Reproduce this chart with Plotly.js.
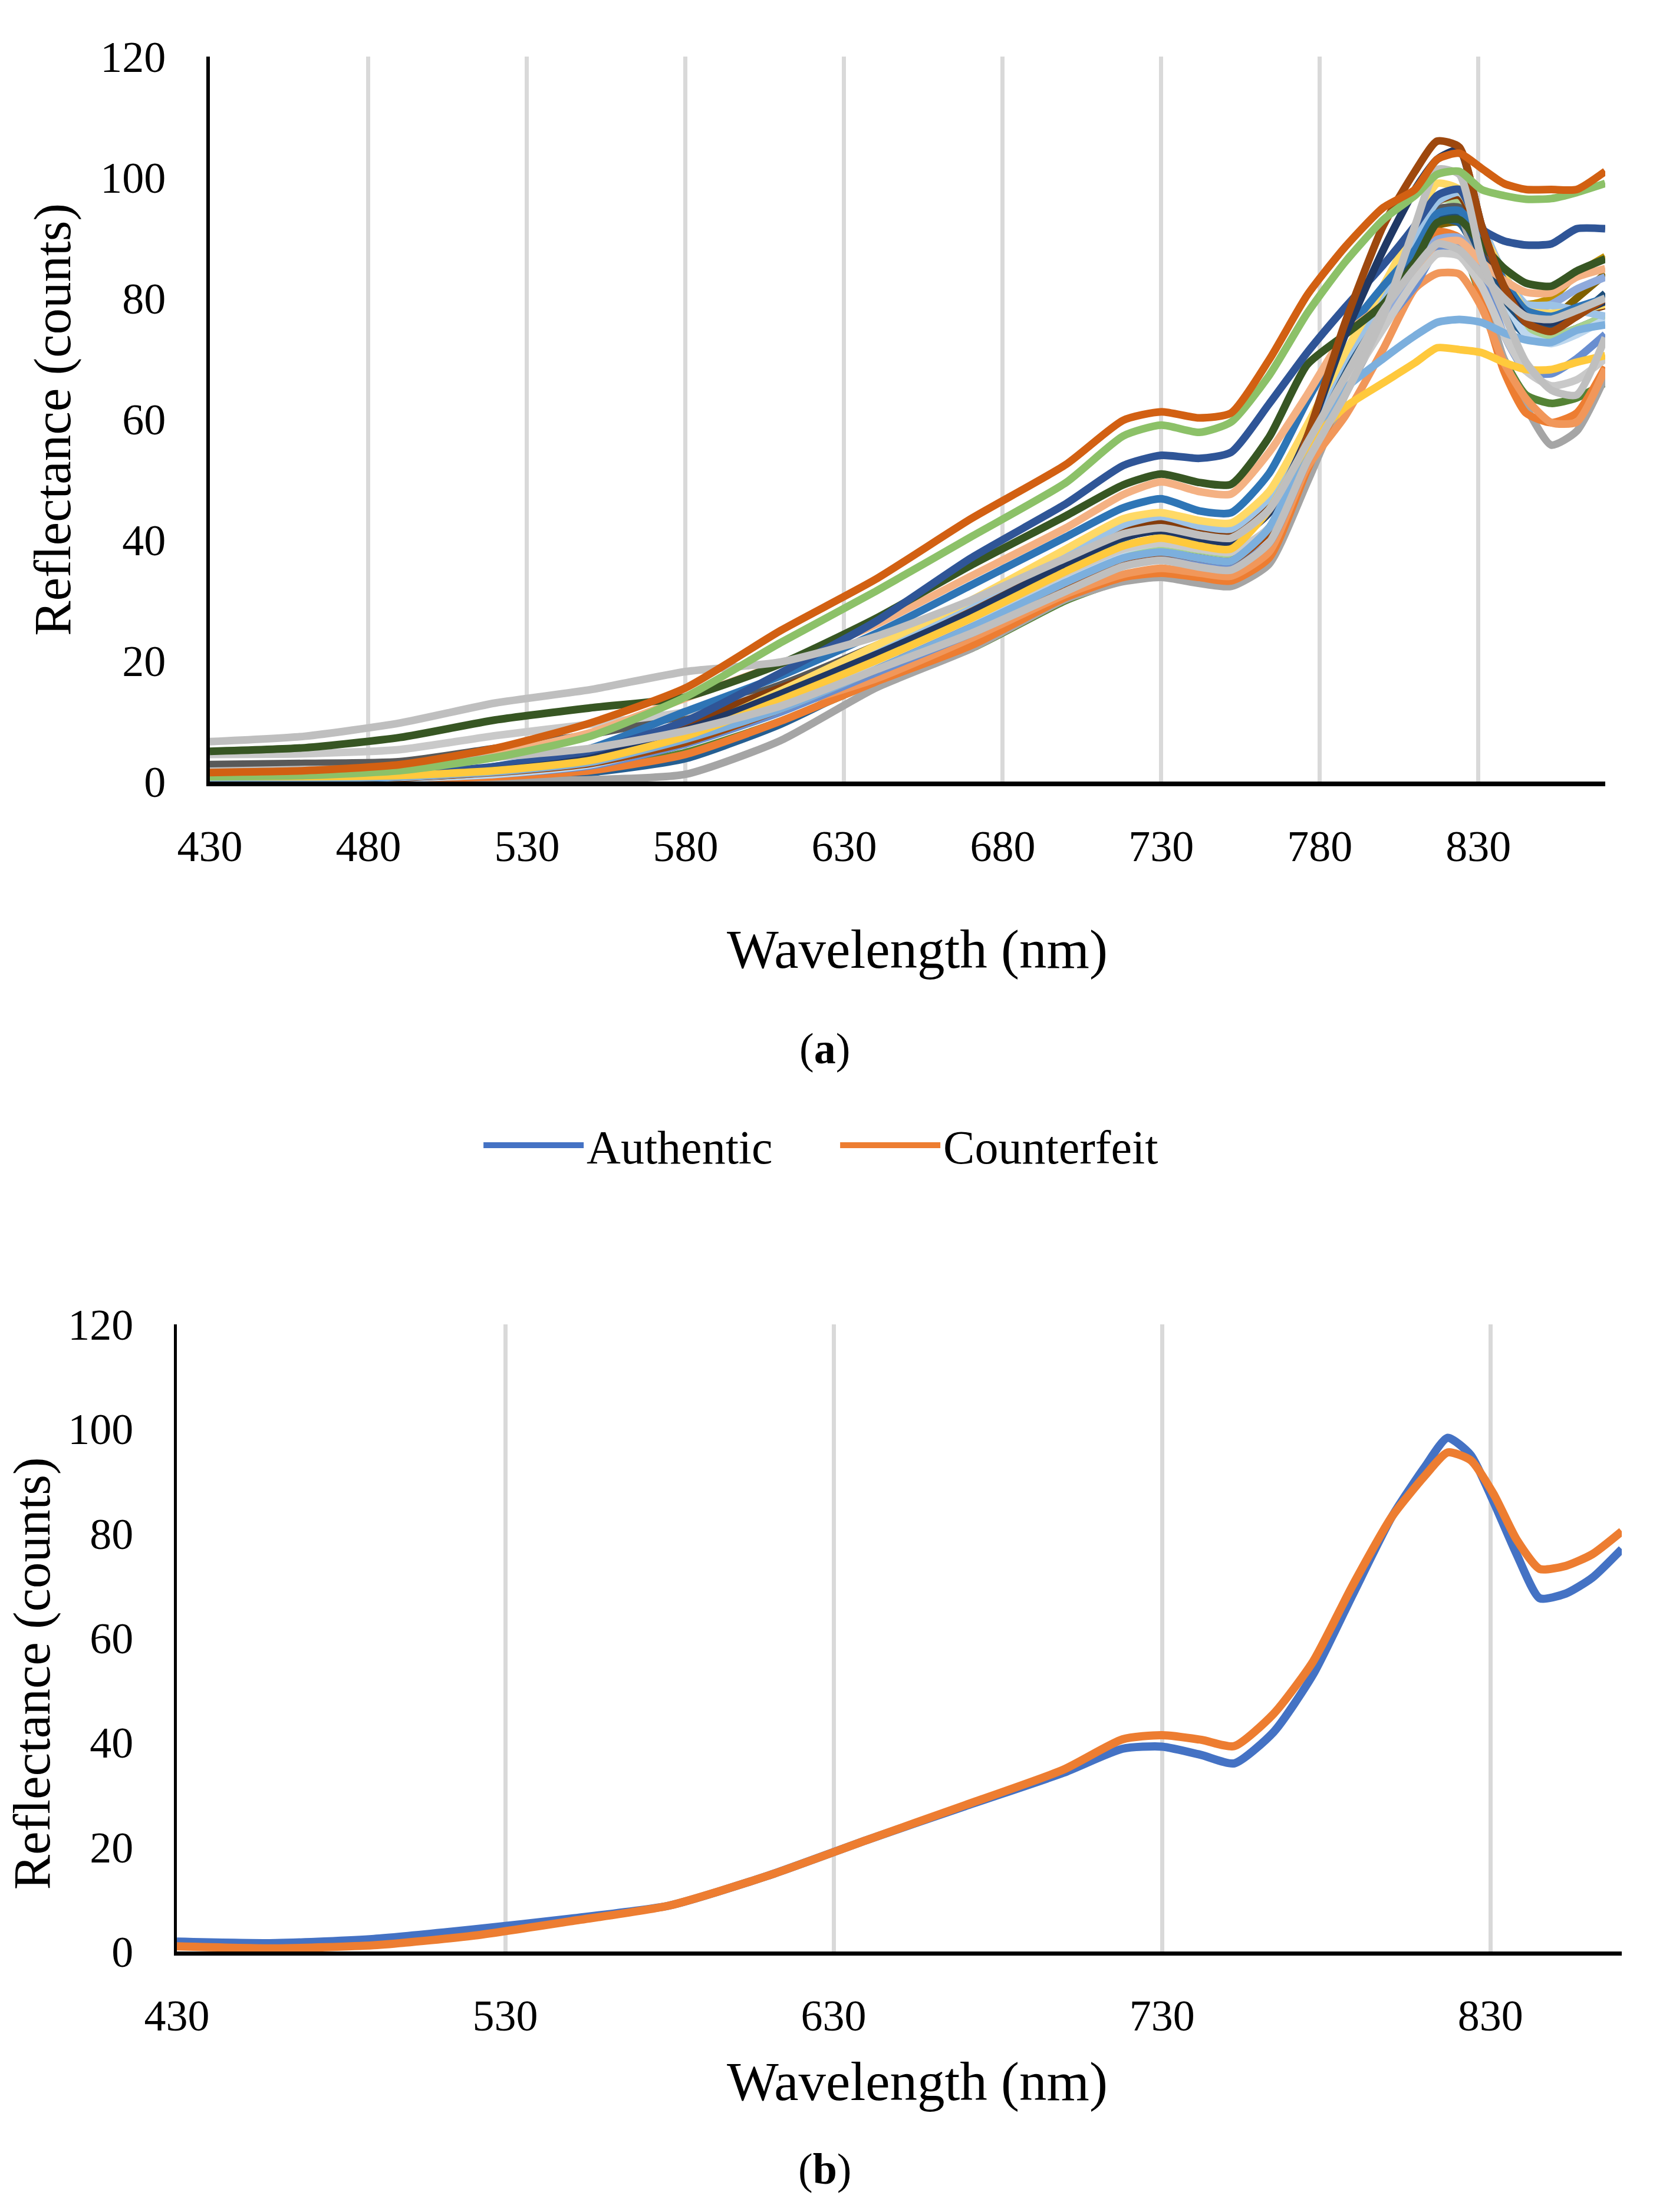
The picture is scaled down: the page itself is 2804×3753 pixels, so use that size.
<!DOCTYPE html>
<html>
<head>
<meta charset="utf-8">
<script src="https://cdn.plot.ly/plotly-3.0.1.min.js"></script>
<style>
  html, body { margin: 0; padding: 0; background: #fff; }
  #chart { width: 2804px; height: 3753px; }
</style>
</head>
<body>
<div id="chart"></div>
<script>
// Wavelength grid (nm) the spectra were read at
const wavelengths = [430, 460, 490, 520, 550, 580, 610, 640, 670, 700, 718, 730, 742, 752, 764, 776, 788, 800, 810, 817, 824, 831, 838, 845, 853, 861, 870];

// Panel (a): individual sample spectra (reflectance counts)
const specDarkGold    = [1.0, 1.2, 1.3, 1.8, 3.0, 6.5, 12.0, 18.5, 25.5, 33.0, 37.0, 38.0, 37.3, 36.8, 41.5, 54.5, 67.0, 78.0, 88.0, 93.0, 93.0, 88.0, 82.0, 79.0, 80.0, 84.0, 86.9];
const specOlive       = [0.9, 0.8, 1.0, 1.6, 3.0, 6.8, 12.5, 19.0, 26.0, 33.5, 37.5, 38.5, 37.8, 37.3, 42.0, 54.5, 67.0, 78.0, 87.0, 92.0, 92.5, 86.0, 79.0, 75.5, 76.5, 80.0, 84.0];
const specGreen2      = [0.3, 0.4, 0.5, 0.9, 2.0, 4.8, 10.0, 16.5, 22.0, 30.0, 33.3, 33.9, 33.0, 32.5, 36.3, 50.0, 65.0, 76.0, 84.0, 90.0, 89.0, 80.0, 70.0, 64.0, 62.6, 63.5, 66.0];
const specSteelBlue   = [0.2, 0.2, 0.3, 0.6, 1.5, 3.8, 9.5, 17.0, 22.5, 30.5, 33.5, 34.2, 33.3, 32.8, 37.0, 51.0, 66.0, 78.0, 88.0, 93.0, 92.5, 86.0, 78.0, 74.0, 73.5, 75.0, 77.0];
const specGrey        = [0.0, 0.0, 0.1, 0.2, 0.3, 1.2, 6.8, 15.5, 22.0, 30.2, 33.1, 33.8, 32.8, 32.3, 36.0, 49.5, 64.0, 76.0, 88.0, 95.0, 94.0, 82.0, 70.0, 62.0, 55.7, 58.0, 67.0];
const specOrange      = [0.2, 0.2, 0.4, 0.8, 1.8, 4.5, 10.0, 16.5, 22.5, 30.5, 33.8, 34.5, 33.8, 33.2, 37.0, 51.5, 64.5, 76.0, 86.0, 91.0, 90.0, 80.0, 68.0, 61.0, 59.4, 61.0, 68.6];
const specSalmon      = [0.3, 0.4, 0.6, 1.5, 3.5, 7.0, 12.0, 17.0, 23.7, 31.0, 34.3, 35.3, 34.5, 34.0, 38.0, 52.0, 60.5, 71.6, 81.6, 84.1, 84.0, 78.5, 69.4, 63.4, 59.4, 59.5, 68.3];
const specCornflower  = [0.3, 0.4, 0.6, 1.2, 2.6, 6.2, 11.5, 18.0, 24.5, 32.0, 36.2, 37.1, 36.0, 35.5, 39.5, 53.0, 64.5, 75.5, 82.0, 88.0, 88.5, 84.0, 74.0, 68.0, 67.5, 70.0, 74.0];
const specSoftBlue    = [0.6, 0.6, 0.9, 1.7, 3.3, 7.2, 13.0, 19.5, 26.5, 34.0, 38.0, 39.0, 38.2, 37.8, 42.0, 54.5, 66.0, 76.0, 85.0, 89.7, 90.0, 85.0, 80.0, 78.0, 79.0, 81.5, 83.5];
const specPaleGreen   = [2.0, 1.0, 1.2, 2.0, 3.5, 7.5, 13.0, 19.5, 26.5, 34.0, 38.0, 39.0, 38.0, 37.5, 42.0, 55.0, 68.0, 80.0, 90.0, 96.2, 96.0, 88.0, 80.0, 74.5, 73.5, 75.0, 77.0];
const specPaleBlue    = [0.2, 0.3, 0.5, 1.2, 2.8, 6.8, 12.5, 19.0, 26.0, 34.0, 38.3, 39.5, 38.5, 38.0, 42.0, 55.0, 67.0, 78.0, 88.0, 94.0, 95.0, 88.0, 80.0, 74.0, 72.5, 74.0, 76.5];
const specDarkGrey    = [2.8, 3.0, 3.3, 5.5, 7.8, 11.0, 16.0, 22.5, 29.5, 37.5, 42.0, 43.0, 41.8, 41.2, 46.0, 57.5, 69.0, 81.0, 89.0, 94.6, 95.0, 88.0, 81.0, 77.0, 76.0, 77.5, 79.0];
const specSilver      = [4.5, 4.6, 5.3, 7.6, 9.5, 11.5, 15.0, 20.5, 27.0, 34.5, 38.5, 39.5, 38.5, 38.0, 42.0, 54.0, 65.0, 75.0, 83.0, 87.3, 87.0, 82.0, 74.0, 68.0, 65.5, 66.5, 70.0];
const specBrown       = [0.2, 0.3, 0.6, 1.6, 4.0, 9.7, 15.5, 21.5, 29.0, 37.2, 41.9, 43.1, 41.5, 41.0, 46.0, 57.0, 70.0, 82.0, 91.0, 96.0, 97.0, 90.0, 82.0, 77.5, 76.5, 77.5, 78.8];
const specNavy        = [0.3, 0.4, 0.8, 1.8, 3.6, 8.0, 14.0, 20.5, 27.5, 35.5, 40.3, 41.8, 40.3, 40.0, 45.0, 55.5, 68.0, 80.0, 88.0, 93.7, 94.0, 87.0, 80.0, 76.0, 75.6, 77.0, 80.8];
const specLightBlue   = [0.3, 0.4, 0.7, 1.5, 3.2, 7.5, 14.5, 22.0, 29.5, 37.5, 42.5, 43.9, 42.3, 41.8, 47.0, 58.0, 70.0, 80.0, 90.0, 96.0, 97.5, 92.0, 84.0, 79.0, 78.8, 78.0, 77.0];
const specLightYellow = [0.5, 0.6, 0.9, 1.8, 3.5, 8.0, 15.0, 22.5, 30.0, 38.5, 43.5, 44.5, 43.2, 42.8, 48.0, 59.0, 71.0, 82.0, 92.0, 99.0, 98.0, 91.0, 84.0, 78.0, 77.5, 78.0, 79.0];
const specMidBlue     = [0.2, 0.4, 0.8, 2.5, 5.5, 11.6, 17.5, 24.5, 32.5, 40.5, 45.3, 46.8, 44.8, 44.5, 51.0, 63.0, 74.0, 82.0, 88.0, 94.0, 94.5, 90.0, 83.0, 78.0, 77.0, 78.5, 80.0];
const specPeach       = [0.5, 0.9, 2.0, 4.5, 8.1, 13.8, 19.5, 26.0, 34.0, 42.0, 47.5, 49.6, 48.0, 47.6, 54.5, 64.0, 74.0, 79.0, 85.0, 89.0, 89.5, 86.0, 83.0, 81.0, 80.9, 83.5, 84.9];
const specDarkGreen   = [5.0, 5.6, 7.3, 10.2, 12.2, 14.0, 19.5, 27.0, 35.8, 44.0, 49.1, 50.9, 49.5, 49.2, 57.0, 69.0, 74.0, 79.0, 86.0, 92.5, 93.0, 89.0, 85.0, 82.5, 82.0, 84.5, 86.5];
const specRoyalBlue   = [0.3, 0.5, 1.2, 2.5, 5.0, 10.0, 18.0, 26.5, 37.0, 46.0, 52.3, 54.0, 53.5, 54.5, 62.5, 71.0, 78.5, 85.5, 92.0, 97.0, 98.0, 91.5, 89.5, 88.8, 89.0, 91.5, 91.5];
const specDarkNavy    = [0.5, 0.6, 0.9, 1.8, 3.8, 8.5, 14.5, 21.0, 28.0, 36.0, 40.5, 41.5, 40.2, 39.7, 44.5, 57.0, 74.0, 88.0, 98.0, 103.0, 104.5, 92.0, 82.0, 77.0, 76.0, 77.5, 79.5];
const specRust        = [0.4, 0.5, 0.8, 1.5, 3.0, 6.5, 12.0, 18.5, 25.5, 32.5, 36.9, 37.9, 37.0, 36.5, 41.5, 57.0, 76.0, 92.0, 101.0, 106.0, 105.0, 92.0, 82.0, 76.0, 74.5, 77.0, 80.0];
const specSky         = [0.4, 0.5, 0.8, 1.6, 3.2, 7.0, 12.0, 18.5, 25.5, 33.0, 37.0, 38.0, 37.0, 36.5, 42.0, 55.0, 65.0, 70.0, 73.8, 76.0, 76.5, 76.0, 74.3, 73.1, 72.7, 74.7, 75.6];
const specGold        = [0.8, 0.8, 1.0, 1.8, 3.5, 7.5, 13.5, 20.0, 27.0, 34.8, 39.0, 40.3, 39.0, 38.5, 45.0, 55.5, 62.0, 66.0, 69.3, 71.8, 71.5, 71.0, 69.4, 68.2, 68.2, 69.4, 70.5];
const specHighGrey    = [6.6, 7.5, 9.7, 13.0, 15.2, 18.2, 19.8, 24.0, 30.0, 37.0, 41.0, 42.0, 40.8, 40.3, 45.0, 56.0, 67.0, 78.0, 85.0, 89.0, 88.0, 84.0, 80.0, 77.0, 76.5, 78.0, 80.0];
const specPeakGrey    = [1.7, 2.0, 2.2, 4.0, 5.5, 8.4, 12.5, 18.5, 24.5, 31.5, 35.6, 36.6, 35.5, 35.0, 39.5, 53.0, 64.0, 77.0, 92.0, 101.3, 100.5, 86.5, 77.5, 69.4, 64.8, 64.0, 73.5];
const specLeaf        = [0.8, 1.0, 1.8, 4.0, 7.5, 14.0, 23.0, 31.5, 40.5, 49.5, 57.2, 59.0, 57.8, 59.5, 67.2, 77.5, 86.0, 93.0, 97.0, 100.5, 101.0, 98.0, 97.0, 96.4, 96.5, 97.5, 99.0];
const specVermilion   = [1.5, 1.8, 2.8, 5.5, 9.7, 15.5, 25.0, 33.5, 43.5, 52.5, 59.8, 61.2, 60.2, 61.0, 69.8, 80.5, 88.5, 95.0, 98.0, 103.0, 104.0, 101.5, 99.0, 98.0, 98.0, 98.0, 101.0];

// Panel (b): mean spectra
const meanAuthentic   = [1.9, 1.6, 2.4, 4.2, 6.3, 8.8, 14.5, 21.3, 27.8, 34.2, 38.8, 39.2, 37.6, 36.0, 42.0, 53.0, 68.2, 83.2, 92.7, 98.3, 95.0, 86.0, 76.0, 67.6, 68.5, 71.5, 77.0];
const meanCounterfeit = [1.0, 0.6, 1.2, 3.0, 5.8, 8.8, 14.5, 21.3, 28.0, 34.8, 40.6, 41.4, 40.5, 39.3, 45.5, 55.5, 70.0, 83.2, 91.0, 95.5, 94.0, 87.5, 78.8, 73.2, 73.8, 76.0, 80.4];

const groupNames = ['Authentic', 'Counterfeit'];
const topTicks = [430, 480, 530, 580, 630, 680, 730, 780, 830];
const bottomTicks = [430, 530, 630, 730, 830];

// drawing order: first listed ends up underneath
const sampleSpectra = [
  [specDarkGold, '#BF9000'], [specOlive, '#7F6000'], [specGreen2, '#548235'],
  [specSteelBlue, '#255E91'], [specGrey, '#A5A5A5'], [specOrange, '#ED7D31'],
  [specSalmon, '#F1975A'], [specCornflower, '#698ED0'], [specSoftBlue, '#8FAADC'],
  [specPaleGreen, '#A9D18E'], [specPaleBlue, '#BDD7EE'], [specDarkGrey, '#595959'],
  [specSilver, '#C9C9C9'], [specBrown, '#843C0C'], [specNavy, '#1F4E79'],
  [specLightBlue, '#9DC3E6'], [specLightYellow, '#FFD966'], [specMidBlue, '#2E75B6'],
  [specPeach, '#F4B183'], [specDarkGreen, '#375623'], [specRoyalBlue, '#2F5597'],
  [specDarkNavy, '#203864'], [specRust, '#9E480E'], [specSky, '#7CAFDD'],
  [specGold, '#FFC93C'], [specHighGrey, '#BFBFBF'], [specPeakGrey, '#BFBFBF'],
  [specLeaf, '#8CC168'], [specVermilion, '#D26012']
];

const FONT = '"Liberation Serif", "Times New Roman", serif';
const traces = [];

sampleSpectra.forEach(([vals, color]) => {
  traces.push({
    x: wavelengths, y: vals, xaxis: 'x', yaxis: 'y',
    type: 'scatter', mode: 'lines', showlegend: false, hoverinfo: 'skip',
    line: { color: color, width: 13, shape: 'spline', smoothing: 0.6 }
  });
});

[[meanAuthentic, '#4472C4'], [meanCounterfeit, '#ED7D31']].forEach(([vals, color], i) => {
  traces.push({
    x: wavelengths, y: vals, xaxis: 'x2', yaxis: 'y2', name: groupNames[i],
    type: 'scatter', mode: 'lines', showlegend: true,
    line: { color: color, width: 14, shape: 'spline', smoothing: 0.6 }
  });
});

const xBase = {
  range: [430, 870], tickmode: 'array', showgrid: true, gridcolor: '#D9D9D9', gridwidth: 7,
  zeroline: false, showline: true, linecolor: '#000', ticks: '',
  tickfont: { family: FONT, size: 74, color: '#000' }, ticklabelstandoff: 38, fixedrange: true
};
const yBase = {
  range: [0, 120], dtick: 20, showgrid: false, zeroline: false, showline: true,
  linecolor: '#000', ticks: '', tickfont: { family: FONT, size: 74, color: '#000' },
  ticklabelstandoff: 54, fixedrange: true
};

// centred text annotation in paper coordinates
const label = (text, x, y, size, angle) => ({
  text: text, xref: 'paper', yref: 'paper', x: x, y: y, xanchor: 'center', yanchor: 'middle',
  textangle: angle || 0, showarrow: false, font: { family: FONT, size: size, color: '#000' }
});

const layout = {
  width: 2804, height: 3753,
  margin: { l: 0, r: 0, t: 0, b: 0 },
  paper_bgcolor: '#fff', plot_bgcolor: 'rgba(0,0,0,0)',
  font: { family: FONT, color: '#000' },
  xaxis: Object.assign({}, xBase, { domain: [0.12696, 0.97111], anchor: 'y', tickvals: topTicks, linewidth: 8 }),
  yaxis: Object.assign({}, yBase, { domain: [0.64668, 0.97442], anchor: 'x', linewidth: 6 }),
  xaxis2: Object.assign({}, xBase, { domain: [0.10699, 0.98110], anchor: 'y2', tickvals: bottomTicks, linewidth: 7 }),
  yaxis2: Object.assign({}, yBase, { domain: [0.11777, 0.40128], anchor: 'x2', linewidth: 5 }),
  showlegend: true,
  legend: {
    orientation: 'h', x: 0.2907, xanchor: 'left', y: 0.4823, yanchor: 'middle',
    font: { family: FONT, size: 80, color: '#000' }, itemwidth: 170, entrywidth: 420,
    bgcolor: 'rgba(0,0,0,0)'
  },
  annotations: [
    label('Reflectance (counts)', 0.0317, 0.8103, 89, -90),
    label('Wavelength (nm)', 0.5549, 0.5710, 93),
    label('(<b>a</b>)', 0.4989, 0.5260, 74),
    label('Reflectance (counts)', 0.0193, 0.2435, 89, -90),
    label('Wavelength (nm)', 0.5549, 0.0589, 93),
    label('(<b>b</b>)', 0.4989, 0.01945, 74)
  ]
};

Plotly.newPlot('chart', traces, layout, { displayModeBar: false, staticPlot: true });
</script>
</body>
</html>
